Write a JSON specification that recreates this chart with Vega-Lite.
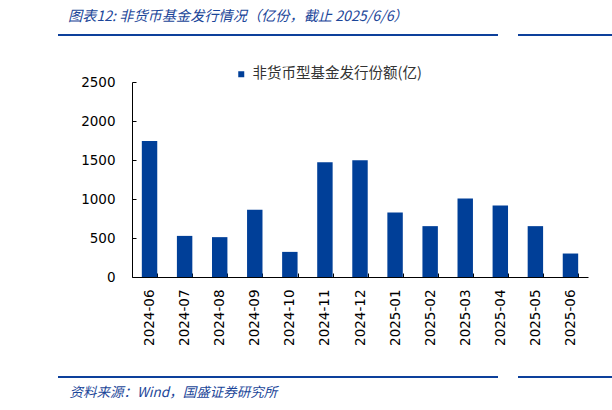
{
  "$schema": "https://vega.github.io/schema/vega-lite/v6.json",
  "autosize": "none",
  "width": 456,
  "height": 195,
  "padding": {"left": 132, "top": 82, "right": 24, "bottom": 133},
  "background": "white",
  "config": {"view": {"stroke": null}},
  "title": {
    "text": "图表12:  非货币基金发行情况（亿份，截止 2025/6/6）",
    "anchor": "start",
    "frame": "group",
    "dx": -64,
    "offset": 10,
    "font": "Noto Sans CJK SC",
    "fontSize": 14.2,
    "fontStyle": "italic",
    "fontWeight": "normal",
    "color": "#1b4699"
  },
  "data": {
    "values": [
      {"month": "2024-06", "value": 1745, "series": "非货币型基金发行份额(亿)"},
      {"month": "2024-07", "value": 527, "series": "非货币型基金发行份额(亿)"},
      {"month": "2024-08", "value": 511, "series": "非货币型基金发行份额(亿)"},
      {"month": "2024-09", "value": 862, "series": "非货币型基金发行份额(亿)"},
      {"month": "2024-10", "value": 322, "series": "非货币型基金发行份额(亿)"},
      {"month": "2024-11", "value": 1471, "series": "非货币型基金发行份额(亿)"},
      {"month": "2024-12", "value": 1497, "series": "非货币型基金发行份额(亿)"},
      {"month": "2025-01", "value": 828, "series": "非货币型基金发行份额(亿)"},
      {"month": "2025-02", "value": 652, "series": "非货币型基金发行份额(亿)"},
      {"month": "2025-03", "value": 1008, "series": "非货币型基金发行份额(亿)"},
      {"month": "2025-04", "value": 918, "series": "非货币型基金发行份额(亿)"},
      {"month": "2025-05", "value": 652, "series": "非货币型基金发行份额(亿)"},
      {"month": "2025-06", "value": 301, "series": "非货币型基金发行份额(亿)"}
    ]
  },
  "layer": [
    {
      "mark": {"type": "bar"},
      "encoding": {
        "x": {
          "field": "month",
          "type": "ordinal",
          "scale": {"paddingInner": 0.56, "paddingOuter": 0.28},
          "axis": {
            "title": "资料来源：Wind，国盛证券研究所",
            "titleX": -63,
            "titleY": 115,
            "titleAlign": "left",
            "titleBaseline": "middle",
            "titleFont": "Noto Sans CJK SC",
            "titleFontSize": 13.5,
            "titleFontStyle": "italic",
            "titleFontWeight": "normal",
            "titleColor": "#1b4699",
            "labelAngle": -90,
            "labelAlign": "right",
            "labelBaseline": "middle",
            "labelFont": "DejaVu Sans",
            "labelFontSize": 13.5,
            "labelColor": "#000000",
            "labelPadding": 16,
            "tickBand": "extent",
            "tickSize": -4,
            "tickColor": "#000000",
            "domainColor": "#000000",
            "domainWidth": 1
          }
        },
        "y": {
          "field": "value",
          "type": "quantitative",
          "scale": {"domain": [0, 2500]},
          "axis": {
            "title": null,
            "values": [0, 500, 1000, 1500, 2000, 2500],
            "format": "d",
            "grid": false,
            "labelFont": "DejaVu Sans",
            "labelFontSize": 13.5,
            "labelColor": "#000000",
            "labelPadding": 21,
            "tickSize": -4,
            "tickColor": "#000000",
            "domainColor": "#000000",
            "domainWidth": 1
          }
        },
        "color": {
          "field": "series",
          "type": "nominal",
          "scale": {"range": ["#003f98"]},
          "legend": {
            "title": null,
            "orient": "none",
            "legendX": 102,
            "legendY": -15,
            "symbolType": "square",
            "symbolSize": 36,
            "symbolStrokeWidth": 0,
            "labelFont": "Noto Sans CJK SC",
            "labelFontSize": 14.5,
            "labelLimit": 400,
            "labelColor": "#333333",
            "labelOffset": 4
          }
        }
      }
    },
    {
      "data": {"values": [{}]},
      "mark": {"type": "rule", "color": "#0d409b", "strokeWidth": 2},
      "encoding": {"x": {"value": -74}, "x2": {"value": 366}, "y": {"value": -47}}
    },
    {
      "data": {"values": [{}]},
      "mark": {"type": "rule", "color": "#0d409b", "strokeWidth": 2},
      "encoding": {"x": {"value": 386}, "x2": {"value": 480}, "y": {"value": -47}}
    },
    {
      "data": {"values": [{}]},
      "mark": {"type": "rule", "color": "#0d409b", "strokeWidth": 2},
      "encoding": {"x": {"value": -74}, "x2": {"value": 366}, "y": {"value": 295}}
    },
    {
      "data": {"values": [{}]},
      "mark": {"type": "rule", "color": "#0d409b", "strokeWidth": 2},
      "encoding": {"x": {"value": 386}, "x2": {"value": 480}, "y": {"value": 295}}
    }
  ]
}
